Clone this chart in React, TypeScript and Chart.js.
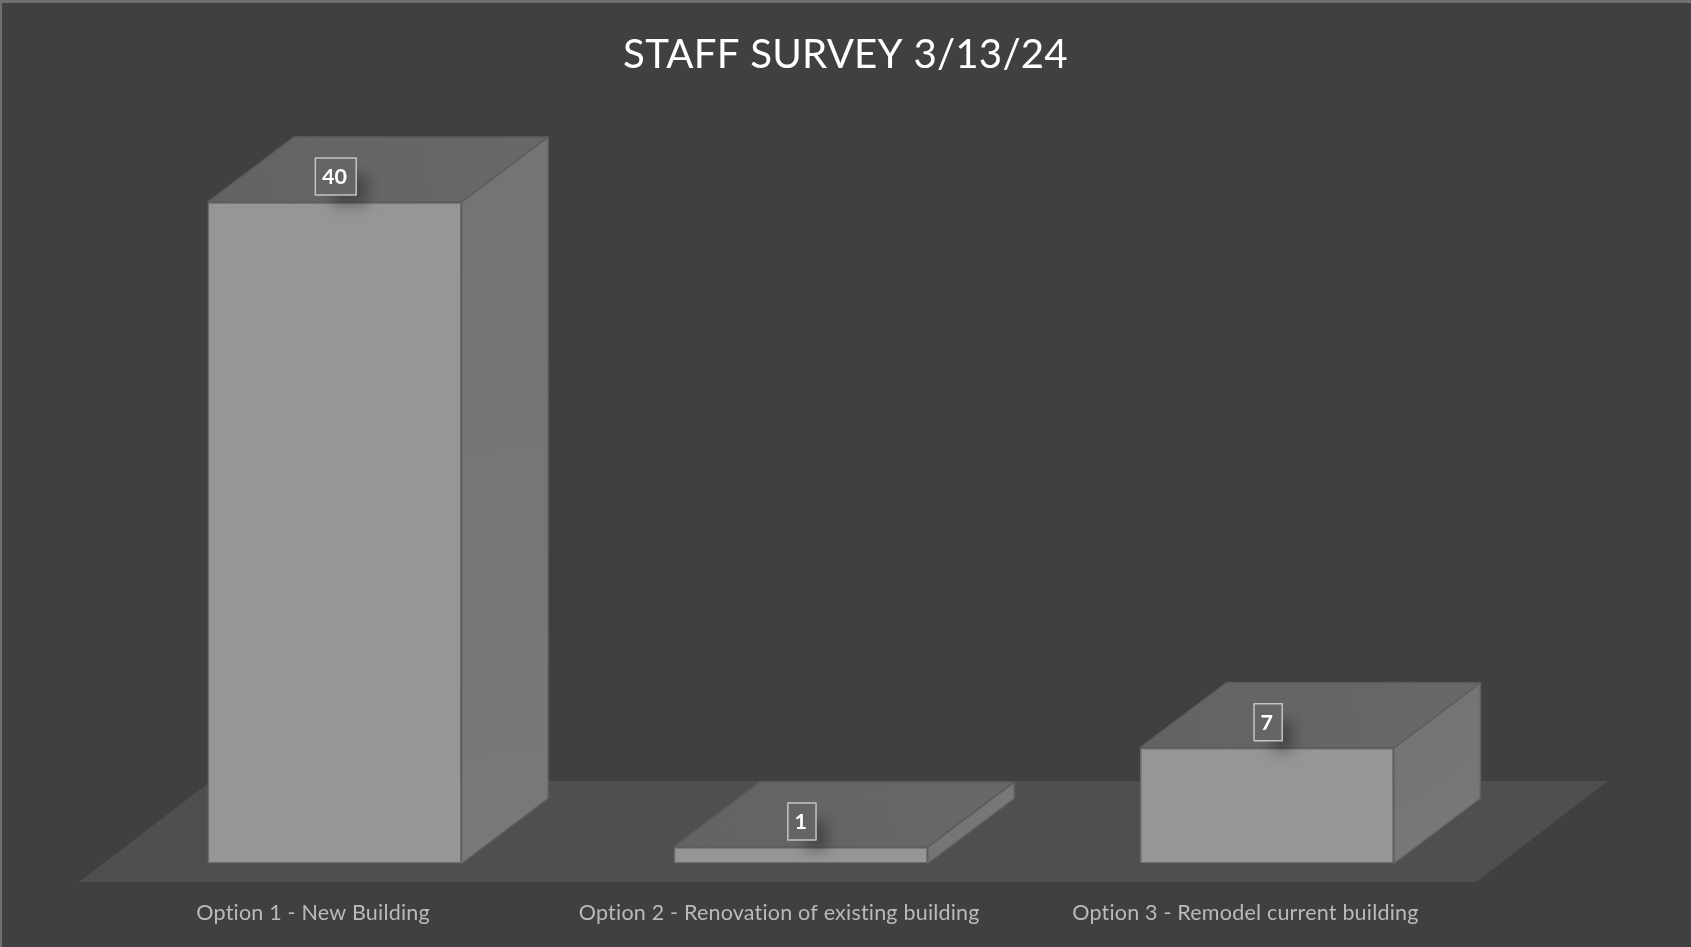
import React, { useEffect, useRef } from "react";
import { Chart, registerables } from "chart.js";

Chart.register(...registerables);

const categories = [
  "Option 1 - New Building",
  "Option 2 - Renovation of existing building",
  "Option 3 - Remodel current building",
];
const responses = [40, 1, 7];
const chartTitle = "STAFF SURVEY 3/13/24";

const DEPTH_X = 86.5;
const DEPTH_Y = 65;

function poly(ctx: CanvasRenderingContext2D, pts: number[][], fill: string | CanvasGradient, stroke: string) {
  ctx.beginPath();
  pts.forEach((p, i) => (i ? ctx.lineTo(p[0], p[1]) : ctx.moveTo(p[0], p[1])));
  ctx.closePath();
  ctx.fillStyle = fill;
  ctx.fill();
  ctx.strokeStyle = stroke;
  ctx.lineWidth = 1.5;
  ctx.lineJoin = "round";
  ctx.stroke();
}

const scene3d = {
  id: "scene3d",
  beforeLayout(chart: any) {
    chart.ctx.letterSpacing = "0.2px";
  },
  beforeDraw(chart: any) {
    const { ctx, width, height } = chart;
    ctx.letterSpacing = "0.2px";
    ctx.save();
    ctx.fillStyle = "#404040";
    ctx.fillRect(0, 0, width, height);
    ctx.fillStyle = "#6f6f6f";
    ctx.fillRect(0, 0, width, 3);
    ctx.fillRect(0, 0, 2, height);
    ctx.restore();
  },
  beforeDatasetsDraw(chart: any) {
    const { ctx, chartArea, scales } = chart;
    const y0 = scales.y.getPixelForValue(0);
    const left = chartArea.left - 22.5;
    const right = chartArea.right - 24;
    const front = y0 + 18.5;
    const back = y0 - 82.5;
    ctx.save();
    ctx.beginPath();
    ctx.moveTo(left, front);
    ctx.lineTo(right, front);
    ctx.lineTo(right + 132, back);
    ctx.lineTo(left + 132, back);
    ctx.closePath();
    ctx.fillStyle = "#504e4e";
    ctx.fill();
    ctx.restore();
  },
  afterDatasetsDraw(chart: any) {
    const { ctx } = chart;
    const meta = chart.getDatasetMeta(0);
    ctx.save();
    meta.data.forEach((bar: any) => {
      const l = bar.x - bar.width / 2;
      const r = bar.x + bar.width / 2;
      const t = bar.y;
      const b = bar.base;

      const side = ctx.createLinearGradient(r, t, r + DEPTH_X, b);
      side.addColorStop(0, "#747474");
      side.addColorStop(1, "#797979");
      poly(ctx, [[r, t], [r + DEPTH_X, t - DEPTH_Y], [r + DEPTH_X, b - DEPTH_Y], [r, b]], side, "#606060");

      const top = ctx.createLinearGradient(l, t, r + DEPTH_X, t - DEPTH_Y);
      top.addColorStop(0, "#636363");
      top.addColorStop(1, "#686868");
      poly(ctx, [[l, t], [r, t], [r + DEPTH_X, t - DEPTH_Y], [l + DEPTH_X, t - DEPTH_Y]], top, "#5c5c5c");

      // the translucent front lets the hidden back edges show faintly
      ctx.strokeStyle = "rgba(255,255,255,0.025)";
      ctx.lineWidth = 1;
      ctx.beginPath();
      ctx.moveTo(l + DEPTH_X, t - DEPTH_Y);
      ctx.lineTo(l + DEPTH_X, b - DEPTH_Y);
      ctx.lineTo(r, b - DEPTH_Y);
      ctx.moveTo(l + DEPTH_X, b - DEPTH_Y);
      ctx.lineTo(l, b);
      ctx.stroke();
    });

    meta.data.forEach((bar: any, i: number) => {
      const label = String(responses[i]);
      ctx.font = "bold 21.5px Lato";
      const tw = ctx.measureText(label).width;
      const w = tw + 15.5;
      const h = 37;
      const cy = bar.y - 25.5;
      const bx = bar.x + 1.2 - w / 2;
      const by = cy - h / 2;

      ctx.save();
      ctx.beginPath();
      ctx.rect(0, 0, chart.width, chart.height);
      ctx.rect(bx, by, w, h);
      ctx.clip("evenodd");
      ctx.shadowColor = "rgba(0,0,0,0.3)";
      ctx.shadowBlur = 14;
      ctx.shadowOffsetX = 5000 + 14;
      ctx.shadowOffsetY = 14;
      ctx.fillStyle = "#000";
      ctx.fillRect(bx - 5000 + 3, by + 3, w - 6, h - 6);
      ctx.restore();

      ctx.strokeStyle = "#c4c4c4";
      ctx.lineWidth = 1.5;
      ctx.strokeRect(bx, by, w, h);
      ctx.fillStyle = "#ffffff";
      ctx.textAlign = "center";
      ctx.textBaseline = "middle";
      ctx.fillText(label, bar.x, cy + 1);
    });
    ctx.restore();
  },
};

export default function App() {
  const ref = useRef<HTMLCanvasElement | null>(null);
  useEffect(() => {
    if (!ref.current) return;
    const chart = new Chart(ref.current, {
      type: "bar",
      data: {
        labels: categories,
        datasets: [
          {
            label: "Responses",
            data: responses,
            yAxisID: "y",
            backgroundColor: "#969696",
            borderColor: "#6c6c6c",
            borderWidth: 1.5,
            borderSkipped: false,
            barPercentage: 0.545,
            categoryPercentage: 1,
          },
        ],
      },
      options: {
        animation: false,
        responsive: false,
        devicePixelRatio: 1,
        layout: { padding: 0 },
        plugins: {
          legend: { display: false },
          tooltip: { enabled: false },
          title: {
            display: true,
            text: chartTitle,
            color: "#ffffff",
            font: { family: "Lato", size: 40.25, weight: "normal" },
            padding: { top: 31, bottom: 122.7 },
          },
        },
        scales: {
          x: {
            grid: { display: false, drawTicks: false },
            border: { display: false },
            afterFit: (scale: any) => {
              scale.height = 83.5;
            },
            ticks: {
              color: "#bababa",
              font: { family: "Lato", size: 21.5 },
              padding: 37,
              labelOffset: -21.5,
              autoSkip: false,
              maxRotation: 0,
            },
          },
          y: {
            min: 0,
            max: 40,
            grid: { display: false, drawTicks: false },
            border: { display: false },
            ticks: { display: false },
            afterFit: (scale: any) => {
              scale.width = 101.5;
            },
          },
          yRight: {
            position: "right",
            grid: { display: false, drawTicks: false },
            border: { display: false },
            ticks: { display: false },
            afterFit: (scale: any) => {
              scale.width = 191;
            },
          },
        },
      },
      plugins: [scene3d],
    } as any);
    return () => chart.destroy();
  }, []);
  return (
    <canvas
      ref={ref}
      width={1691}
      height={947}
      style={{ position: "absolute", left: 0, top: 0, display: "block" }}
    />
  );
}
